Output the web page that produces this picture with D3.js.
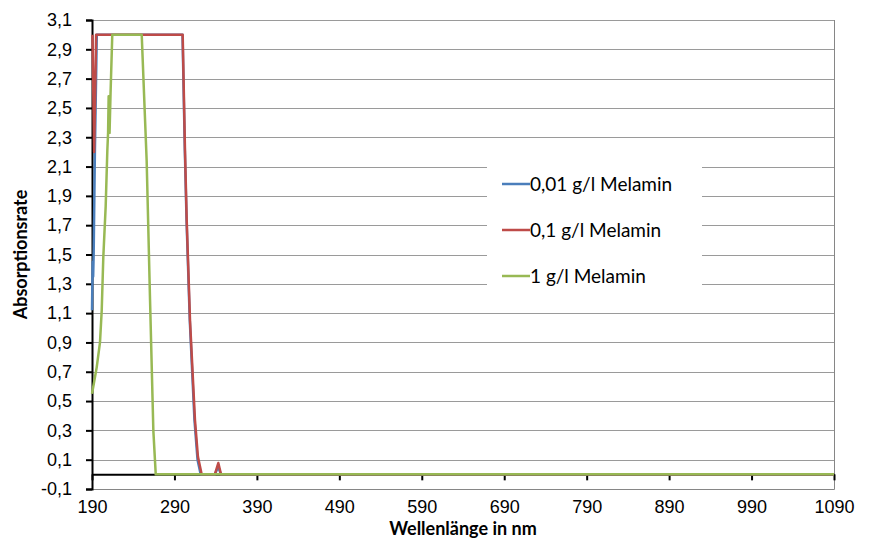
<!DOCTYPE html>
<html>
<head>
<meta charset="utf-8">
<script src="https://cdn.jsdelivr.net/npm/d3@7"></script>
<style>
  body { margin: 0; background: #fff; }
  svg { font-family: Lato, "Open Sans", sans-serif; }
</style>
</head>
<body>
<div id="chart"></div>
<script>
const fullwidth = 869;
const fullheight = 542;
const margin = {top: 20, right: 35, bottom: 53, left: 92};
const width = fullwidth - margin.left - margin.right;
const height = fullheight - margin.top - margin.bottom;

// wavelengths (nm) and absorbance
const blueWl  = [190, 190.8, 191.4, 192, 193.5, 195.8, 299.8, 302.6, 304.7, 308.6, 314.3, 318, 321.8, 339, 343, 346.5, 1090];
const blueAbs = [1.12, 1.45, 1.35, 1.5, 2.2, 3.0, 3.0, 2.21, 1.73, 1.05, 0.37, 0.1, 0, 0, 0.05, 0, 0];

const redWl  = [190.6, 192.6, 195, 300, 302.8, 304.9, 308.9, 314.9, 318.5, 323, 339, 343.2, 346.5, 1090];
const redAbs = [3.0, 2.2, 3.0, 3.0, 2.21, 1.73, 1.05, 0.37, 0.12, 0, 0, 0.077, 0, 0];

const greenWl  = [190, 191.6, 195.7, 199.7, 201.8, 203.7, 206.6, 208.6, 209.5, 210.2, 211.3, 212.5, 214.6, 250.3, 256.3, 260.4, 264.4, 267.3, 1090];
const greenAbs = [0.55, 0.6, 0.73, 0.9, 1.12, 1.48, 1.83, 2.21, 2.33, 2.58, 2.33, 2.6, 3.0, 3.0, 2.14, 1.19, 0.3, 0, 0];

const seriesNames = ["0,01 g/l Melamin", "0,1 g/l Melamin", "1 g/l Melamin"];
const seriesColors = ["#4A7EBB", "#BE4B48", "#98B954"];

const xTicks = [190, 290, 390, 490, 590, 690, 790, 890, 990, 1090];
const yTicks = [-0.1, 0.1, 0.3, 0.5, 0.7, 0.9, 1.1, 1.3, 1.5, 1.7, 1.9, 2.1, 2.3, 2.5, 2.7, 2.9, 3.1];

const series = [
  {name: seriesNames[0], color: seriesColors[0], points: blueWl.map((w, i) => [w, blueAbs[i]])},
  {name: seriesNames[1], color: seriesColors[1], points: redWl.map((w, i) => [w, redAbs[i]])},
  {name: seriesNames[2], color: seriesColors[2], points: greenWl.map((w, i) => [w, greenAbs[i]])}
];

const comma = v => d3.format(".1f")(v).replace(".", ",").replace("−", "-");

const svg = d3.select("#chart").append("svg")
  .attr("width", fullwidth)
  .attr("height", fullheight);

const g = svg.append("g").attr("transform", `translate(${margin.left},${margin.top})`);

const x = d3.scaleLinear().domain([190, 1090]).range([0, width]);
const y = d3.scaleLinear().domain([-0.1, 3.1]).range([height, 0]);

// gridlines
g.append("g")
  .selectAll("line")
  .data(yTicks)
  .enter().append("line")
  .attr("x1", 0).attr("x2", width)
  .attr("y1", d => Math.round(y(d)) + 0.5)
  .attr("y2", d => Math.round(y(d)) + 0.5)
  .attr("stroke", "#9a9a9a")
  .attr("stroke-width", 1);

// plot border (right and bottom)
g.append("path")
  .attr("d", `M${width + 0.5},0V${height + 0.5}H0`)
  .attr("fill", "none")
  .attr("stroke", "#868686");

// legend background
const legendBox = {x: 395, y: 130, w: 215, h: 150};
g.append("rect")
  .attr("x", legendBox.x).attr("y", legendBox.y)
  .attr("width", legendBox.w).attr("height", legendBox.h)
  .attr("fill", "#fff");

// y axis
const yAxis = g.append("g")
  .call(d3.axisLeft(y).tickValues(yTicks).tickFormat(comma).tickSize(6).tickPadding(14));
yAxis.select(".domain").attr("stroke", "#000").attr("stroke-width", 2);
yAxis.selectAll(".tick line").attr("stroke", "#000").attr("stroke-width", 2);
yAxis.selectAll("text").attr("font-size", 18).attr("fill", "#000");

// x axis at zero
const xAxis = g.append("g")
  .attr("transform", `translate(0,${y(0)})`)
  .call(d3.axisBottom(x).tickValues(xTicks).tickSize(6).tickSizeOuter(0).tickFormat(d3.format("d")));
xAxis.select(".domain").attr("stroke", "#000").attr("stroke-width", 2);
xAxis.selectAll(".tick line").attr("stroke", "#000").attr("stroke-width", 2);
xAxis.selectAll("text")
  .attr("font-size", 18).attr("fill", "#000")
  .attr("y", 0)
  .attr("dy", height - y(0) + 24);

// lines
const line = d3.line().x(d => x(d[0])).y(d => y(d[1]));
g.append("g")
  .selectAll("path")
  .data(series)
  .enter().append("path")
  .attr("d", d => line(d.points))
  .attr("fill", "none")
  .attr("stroke", d => d.color)
  .attr("stroke-width", 2.5)
  .attr("stroke-linejoin", "round");

// legend
const legend = g.append("g").attr("transform", `translate(${legendBox.x + 15},${legendBox.y + 34})`);
series.forEach((s, i) => {
  const row = legend.append("g").attr("transform", `translate(0,${i * 46})`);
  row.append("line")
    .attr("x1", 0).attr("x2", 28)
    .attr("stroke", s.color).attr("stroke-width", 2.5);
  row.append("text")
    .attr("x", 28).attr("dy", "0.35em")
    .attr("font-size", 19)
    .text(s.name);
});

// axis titles
svg.append("text")
  .attr("x", margin.left + width / 2).attr("y", 535)
  .attr("text-anchor", "middle")
  .attr("font-size", 18).attr("font-weight", "bold")
  .text("Wellenlänge in nm");

svg.append("text")
  .attr("transform", `translate(27,${margin.top + height / 2}) rotate(-90)`)
  .attr("text-anchor", "middle")
  .attr("font-size", 18).attr("font-weight", "bold")
  .text("Absorptionsrate");
</script>
</body>
</html>
